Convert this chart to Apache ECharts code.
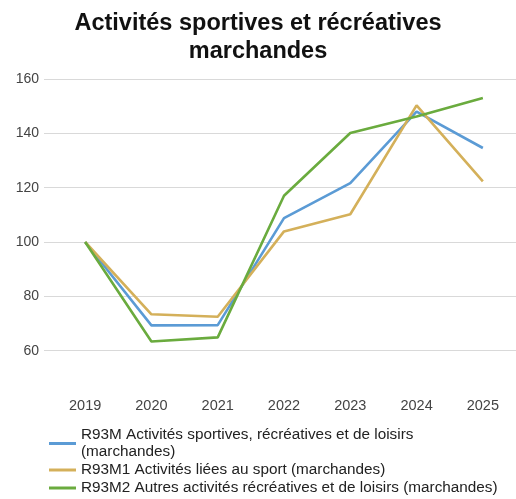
<!DOCTYPE html>
<html>
<head>
<meta charset="utf-8">
<script src="https://cdn.jsdelivr.net/npm/echarts@6/dist/echarts.min.js"></script>
<style>
  html, body { margin: 0; padding: 0; background: #fff; }
  #chart { width: 516px; height: 499px; }
</style>
</head>
<body>
<div id="chart"></div>
<script>
// Years on the horizontal axis
const years = ['2019', '2020', '2021', '2022', '2023', '2024', '2025'];

// Index values (base 100 in 2019)
const r93m  = [100, 69.3, 69.4, 108.8, 121.7, 148.0, 134.6];
const r93m1 = [100, 73.4, 72.5, 103.9, 110.2, 150.3, 122.3];
const r93m2 = [100, 63.4, 64.9, 117.0, 140.1, 146.2, 153.0];

const seriesNames = [
  'R93M Activités sportives, récréatives et de loisirs\n(marchandes)',
  'R93M1 Activités liées au sport (marchandes)',
  'R93M2 Autres activités récréatives et de loisirs (marchandes)'
];
const colors = ['#5b9bd5', '#d4b05a', '#6aab3e'];

const yMin = 40, yMax = 160, yStep = 20;
const font = 'Liberation Sans, Arial, sans-serif';

const chart = echarts.init(document.getElementById('chart'));

function lineSeries(i, data) {
  return {
    name: seriesNames[i],
    type: 'line',
    xAxisIndex: 1,
    yAxisIndex: 1,
    data: data,
    symbol: 'none',
    smooth: false,
    lineStyle: { width: 2.6, color: colors[i] },
    itemStyle: { color: colors[i] },
    z: 3 + i
  };
}

chart.setOption({
  animation: false,
  backgroundColor: '#ffffff',
  title: {
    text: 'Activités sportives et récréatives\nmarchandes',
    left: 'center',
    top: 5,
    textStyle: {
      fontFamily: font,
      fontWeight: 'bold',
      fontSize: 23.5,
      lineHeight: 28,
      color: '#111'
    }
  },
  legend: {
    orient: 'vertical',
    left: 49,
    top: 426.5,
    padding: 0,
    itemGap: 1,
    itemWidth: 27,
    itemHeight: 3,
    icon: 'rect',
    data: seriesNames,
    textStyle: {
      fontFamily: font,
      fontSize: 15.3,
      lineHeight: 17,
      color: '#222'
    }
  },
  grid: [
    // gridlines and value labels
    { left: 44, right: 0, top: 79, bottom: 94 },
    // plotted lines and year labels
    { left: 52, right: 0, top: 79, bottom: 94 }
  ],
  xAxis: [
    {
      gridIndex: 0,
      type: 'category',
      data: years,
      show: false
    },
    {
      gridIndex: 1,
      type: 'category',
      data: years,
      boundaryGap: true,
      axisLine: { show: false },
      axisTick: { show: false },
      axisLabel: {
        margin: -7,
        fontFamily: font,
        fontSize: 14.5,
        color: '#444'
      }
    }
  ],
  yAxis: [
    {
      gridIndex: 0,
      type: 'value',
      min: yMin,
      max: yMax,
      interval: yStep,
      axisLine: { show: false },
      axisTick: { show: false },
      axisLabel: {
        margin: 5,
        fontFamily: font,
        fontSize: 14,
        color: '#444',
        formatter: v => (v === yMin ? '' : String(v))
      },
      splitLine: {
        showMinLine: false,
        lineStyle: { color: '#d9d9d9', width: 1 }
      }
    },
    {
      gridIndex: 1,
      type: 'value',
      min: yMin,
      max: yMax,
      interval: yStep,
      show: false,
      splitLine: { show: false }
    }
  ],
  series: [
    lineSeries(0, r93m),
    lineSeries(1, r93m1),
    lineSeries(2, r93m2)
  ]
});
</script>
</body>
</html>
